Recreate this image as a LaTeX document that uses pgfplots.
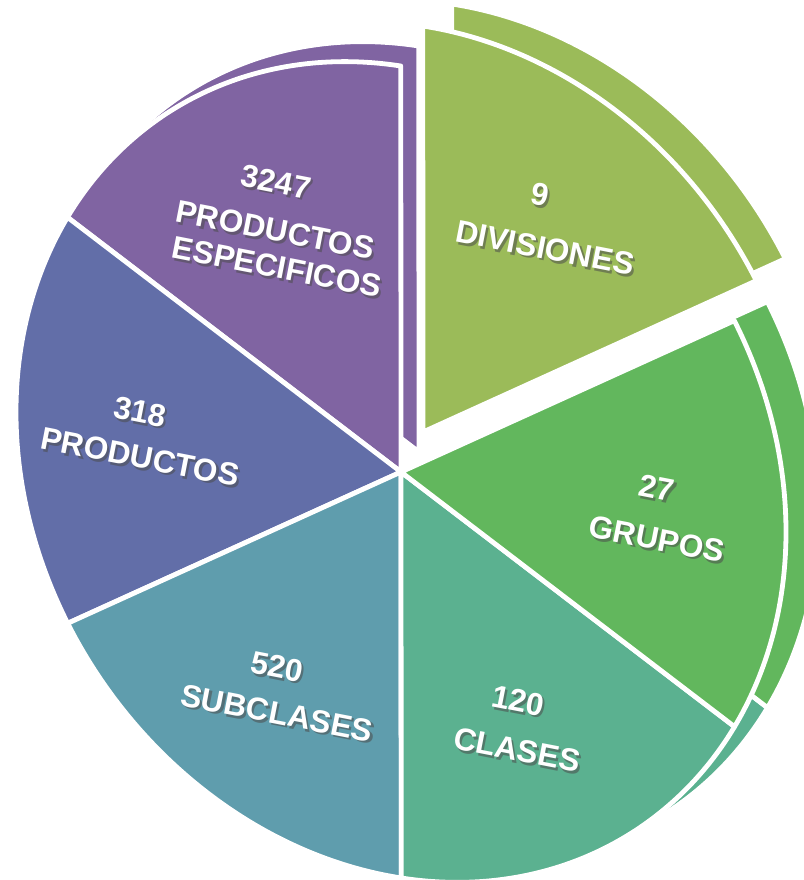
\documentclass[border=0pt]{standalone}
\usepackage{fontspec}
\setmainfont{Liberation Sans}
\usepackage{pgfplots}
\pgfplotsset{compat=1.18}

\definecolor{cdiv}{HTML}{9BBB59}
\definecolor{cgru}{HTML}{62B75D}
\definecolor{ccla}{HTML}{5BB190}
\definecolor{csub}{HTML}{5F9DAD}
\definecolor{cpro}{HTML}{626EA8}
\definecolor{cesp}{HTML}{8064A2}

% one pie slice on the tilted ellipse: centre x, centre y, start, end, colour
\newcommand{\slice}[5]{%
  \fill[#5, draw=white, line width=2.4pt, line join=round,
        rotate around={33.2:(axis cs:#1,#2)}]
    (axis cs:#1,#2) -- (axis cs:{#1+364.9*cos(#3-37.5)},{#2+428.4*sin(#3-37.5)})
    arc[start angle={#3-37.5}, end angle={#4-37.5},
        x radius=182.45pt, y radius=214.2pt] -- cycle;}

% white label with a soft shadow
\newcommand{\lab}[3]{%
  \node[text=black!70, opacity=0.55, rotate=-11, font=\fontsize{15.8}{18}\selectfont\bfseries]
    at ([xshift=1.1pt, yshift=-1.3pt]axis cs:#1,#2) {#3};
  \node[text=white, rotate=-11, font=\fontsize{15.8}{18}\selectfont\bfseries]
    at (axis cs:#1,#2) {#3};}

\begin{document}
\begin{tikzpicture}
  \begin{axis}[
      name=ax,
      x=0.5pt, y=0.5pt,
      xmin=0, xmax=804, ymin=0, ymax=880,
      hide axis, clip=true,
    ]
    % side faces (thickness of the 3D pie)
    \slice{452}{470}{30}{90}{cdiv}
    \slice{419}{428}{90}{150}{cesp}
    \slice{434}{427}{270}{330}{ccla}
    \slice{434}{427}{330}{390}{cgru}
    % top faces
    \slice{401}{408}{90}{150}{cesp}
    \slice{401}{408}{150}{210}{cpro}
    \slice{401}{408}{210}{270}{csub}
    \slice{401}{408}{270}{330}{ccla}
    \slice{401}{408}{330}{390}{cgru}
    \slice{423}{448}{30}{90}{cdiv}

    \lab{540}{685}{9}
    \lab{545}{632}{DIVISIONES}
    \lab{657}{392}{27}
    \lab{657}{341}{GRUPOS}
    \lab{518}{179}{120}
    \lab{517}{130}{CLASES}
    \lab{277}{213}{520}
    \lab{277}{167}{SUBCLASES}
    \lab{140}{468}{318}
    \lab{140}{423}{PRODUCTOS}
    \lab{276}{698}{3247}
    \lab{275}{650}{PRODUCTOS}
    \lab{277}{613}{ESPECIFICOS}
  \end{axis}
  \pgfresetboundingbox
  \path[use as bounding box] (ax.south west) rectangle (ax.north east);
\end{tikzpicture}
\end{document}
